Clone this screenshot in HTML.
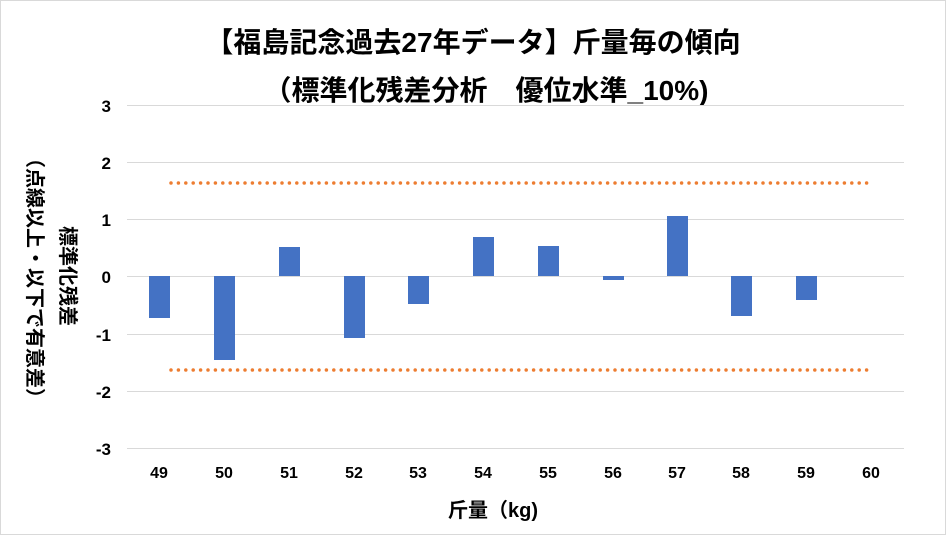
<!DOCTYPE html>
<html><head><meta charset="utf-8"><style>
html,body{margin:0;padding:0;background:#fff;}
svg{display:block;font-family:"Liberation Sans","Noto Sans CJK JP",sans-serif;}
</style></head><body>
<svg width="946" height="535" viewBox="0 0 946 535">
<rect x="0.5" y="0.5" width="945" height="534" fill="#fff" stroke="#d9d9d9"/>
<text x="473" y="52" font-size="28" font-weight="bold" text-anchor="middle" fill="#000">【福島記念過去27年データ】斤量毎の傾向</text>
<text x="486" y="100" font-size="28" font-weight="bold" text-anchor="middle" fill="#000">（標準化残差分析　優位水準_10%)</text>
<g stroke="#d9d9d9" stroke-width="1">
<line x1="127" x2="904" y1="105.5" y2="105.5"/>
<line x1="127" x2="904" y1="162.5" y2="162.5"/>
<line x1="127" x2="904" y1="219.5" y2="219.5"/>
<line x1="127" x2="904" y1="276.5" y2="276.5"/>
<line x1="127" x2="904" y1="334.5" y2="334.5"/>
<line x1="127" x2="904" y1="391.5" y2="391.5"/>
<line x1="127" x2="904" y1="448.5" y2="448.5"/>
</g>
<g font-size="17" font-weight="bold" text-anchor="end" fill="#000">
<text x="111" y="112">3</text><text x="111" y="169">2</text><text x="111" y="226">1</text>
<text x="111" y="283">0</text><text x="111" y="341">-1</text><text x="111" y="398">-2</text><text x="111" y="455">-3</text>
</g>
<g fill="#4472c4">
<rect x="149" y="276" width="21" height="42"/>
<rect x="214" y="276" width="21" height="84"/>
<rect x="279" y="247" width="21" height="29"/>
<rect x="344" y="276" width="21" height="62"/>
<rect x="408" y="276" width="21" height="28"/>
<rect x="473" y="237" width="21" height="39"/>
<rect x="538" y="246" width="21" height="30"/>
<rect x="603" y="276" width="21" height="4"/>
<rect x="667" y="216" width="21" height="60"/>
<rect x="731" y="276" width="21" height="40"/>
<rect x="796" y="276" width="21" height="24"/>
</g>
<g stroke="#ed7d31" stroke-width="3.5" stroke-linecap="round" stroke-dasharray="0 7.4">
<line x1="171" x2="873" y1="183" y2="183"/>
<line x1="171" x2="873" y1="370" y2="370"/>
</g>
<g font-size="16" font-weight="bold" text-anchor="middle" fill="#000">
<text x="159" y="478">49</text><text x="224" y="478">50</text><text x="289" y="478">51</text>
<text x="354" y="478">52</text><text x="418" y="478">53</text><text x="483" y="478">54</text>
<text x="548" y="478">55</text><text x="613" y="478">56</text><text x="677" y="478">57</text>
<text x="741" y="478">58</text><text x="806" y="478">59</text><text x="871" y="478">60</text>
</g>
<text x="493" y="517" font-size="20" font-weight="bold" text-anchor="middle" fill="#000">斤量（kg)</text>
<text transform="translate(61,276) rotate(90)" font-size="20" font-weight="bold" text-anchor="middle" fill="#000">標準化残差</text>
<text transform="translate(28,278) rotate(90)" font-size="20" font-weight="bold" text-anchor="middle" fill="#000">（点線以上・以下で有意差）</text>
</svg>
</body></html>
